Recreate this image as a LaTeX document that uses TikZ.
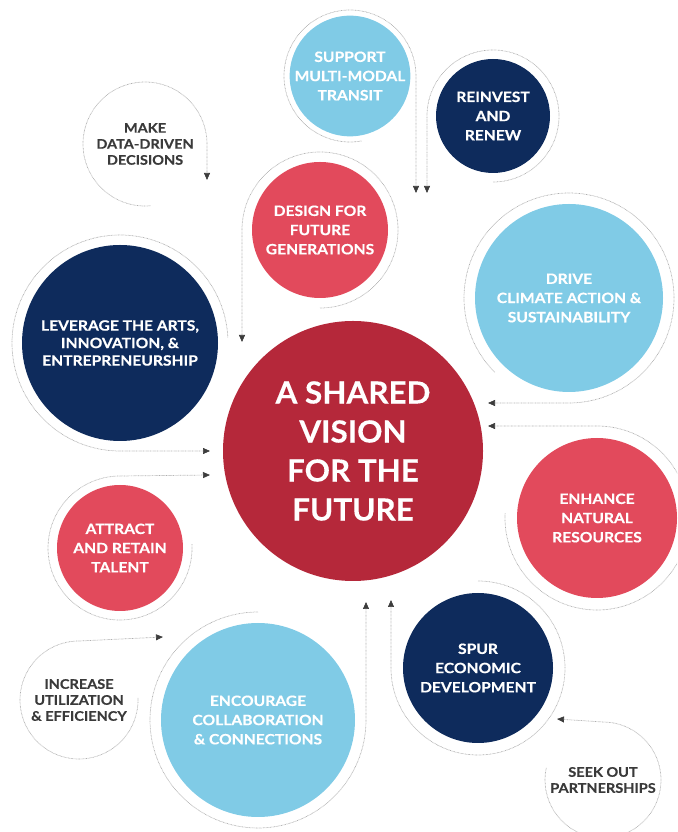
\documentclass[tikz,border=0pt]{standalone}
\usepackage{fontspec}
\setmainfont{Lato}
\newfontfamily\labelfont{Lato}[BoldFeatures={FakeStretch=1.1,FakeBold=0.4}]
\newfontfamily\titlefont{Lato}[BoldFeatures={FakeStretch=1.03,FakeBold=0.3}]
\usetikzlibrary{arrows.meta,calc}
\definecolor{corered}{RGB}{181,40,58}
\definecolor{rosered}{RGB}{226,74,92}
\definecolor{navyc}{RGB}{14,43,92}
\definecolor{skyc}{RGB}{128,203,230}
\definecolor{inkc}{RGB}{58,58,58}
\definecolor{ringc}{RGB}{175,175,175}
\definecolor{tipc}{RGB}{60,60,60}
\begin{document}
\begin{tikzpicture}[x=1pt,y=1pt,
  bub/.style={circle,inner sep=0pt,align=center,text=white,
    font=\labelfont\fontsize{14.2}{19.2}\selectfont\bfseries},
  plain/.style={inner sep=0pt,align=center,text=inkc,
    font=\labelfont\fontsize{13.2}{16}\selectfont\bfseries},
  ring/.style={draw=ringc,line width=0.7pt,dash pattern=on 0.7pt off 0.7pt},
  flow/.style={ring,-{Triangle[length=7pt,width=6pt,color=tipc]}}]
\useasboundingbox (0,0) rectangle (677,832);
\clip (0,0) rectangle (677,832);

% centre
\node[bub,fill=corered,minimum size=260pt,
  font=\titlefont\fontsize{30.5}{39}\selectfont\bfseries] (core) at (353,381)
  {A SHARED\\VISION\\FOR THE\\FUTURE};

% surrounding goals
\node[bub,fill=skyc,minimum size=114pt] (transit) at (350,756) {SUPPORT\\MULTI-MODAL\\TRANSIT};
\node[bub,fill=navyc,minimum size=114pt] (renew) at (493,716) {REINVEST\\AND\\RENEW};
\node[plain] (data) at (145,688) {MAKE\\DATA-DRIVEN\\DECISIONS};
\node[bub,fill=rosered,minimum size=136pt] (design) at (320,602) {DESIGN FOR\\FUTURE\\GENERATIONS};
\node[bub,fill=navyc,minimum size=196pt,font=\labelfont\fontsize{14.2}{17.5}\selectfont\bfseries] (arts) at (120,489)
  {LEVERAGE THE ARTS,\\INNOVATION, \&\\ENTREPRENEURSHIP};
\node[bub,fill=skyc,minimum size=188pt] (climate) at (569,534) {DRIVE\\CLIMATE ACTION \&\\SUSTAINABILITY};
\node[bub,fill=rosered,minimum size=160pt] (natural) at (597,314) {ENHANCE\\NATURAL\\RESOURCES};
\node[bub,fill=rosered,minimum size=126pt] (talent) at (120,284) {ATTRACT\\AND RETAIN\\TALENT};
\node[plain] (util) at (79,132) {INCREASE\\UTILIZATION\\\& EFFICIENCY};
\node[bub,fill=skyc,minimum size=194pt] (collab) at (258,112) {ENCOURAGE\\COLLABORATION\\\& CONNECTIONS};
\node[bub,fill=navyc,minimum size=150pt] (econ) at (478,164) {SPUR\\ECONOMIC\\DEVELOPMENT};
\node[plain] (partner) at (603,52) {SEEK OUT\\PARTNERSHIPS};

% free ends of the connectors
\coordinate (transitEnd) at (416,639);
\coordinate (renewEnd) at (427,639);
\coordinate (dataEnd) at (207,652);
\coordinate (designEnd) at (242,490);
\coordinate (artsEnd) at (210,381);
\coordinate (talentEnd) at (210,357);
\coordinate (utilEnd) at (163,195);
\coordinate (collabEnd) at (366,230);
\coordinate (econEnd) at (391,232);
\coordinate (climateEnd) at (488,429);
\coordinate (naturalEnd) at (488,406);
\coordinate (partnerEnd) at (557,113);

% dotted orbits running into arrows
\draw[flow] ($(transit.center)+(280:66)$) arc[start angle=280,end angle=0,radius=66] -- (transitEnd);
\draw[flow] ($(renew.center)+(-90:66)$) arc[start angle=-90,end angle=180,radius=66] -- (renewEnd);
\draw[flow] ($(data.center)+(275:62)$) arc[start angle=275,end angle=0,radius=62] -- (dataEnd);
\draw[flow] ($(design.center)+(-90:78)$) arc[start angle=-90,end angle=180,radius=78] -- (designEnd);
\draw[flow] ($(arts.center)+(3:108)$) arc[start angle=3,end angle=270,radius=108] -- (artsEnd);
\draw[flow] ($(talent.center)+(3:72)$) arc[start angle=3,end angle=-270,radius=72] -- (talentEnd);
\draw[flow] ($(util.center)+(2:59)$) arc[start angle=2,end angle=-270,radius=59] -- (utilEnd);
\draw[flow] ($(collab.center)+(90:108)$) arc[start angle=90,end angle=360,radius=108] -- (collabEnd);
\draw[flow] ($(econ.center)+(90:87)$) arc[start angle=90,end angle=-180,radius=87] -- (econEnd);
\draw[flow] ($(climate.center)+(225:105)$) arc[start angle=225,end angle=-90,radius=105] -- (climateEnd);
\draw[flow] ($(natural.center)+(177:92)$) arc[start angle=177,end angle=450,radius=92] -- (naturalEnd);
\draw[flow] ($(partner.center)+(168:58)$) arc[start angle=168,end angle=450,radius=58] -- (partnerEnd);
\end{tikzpicture}
\end{document}
